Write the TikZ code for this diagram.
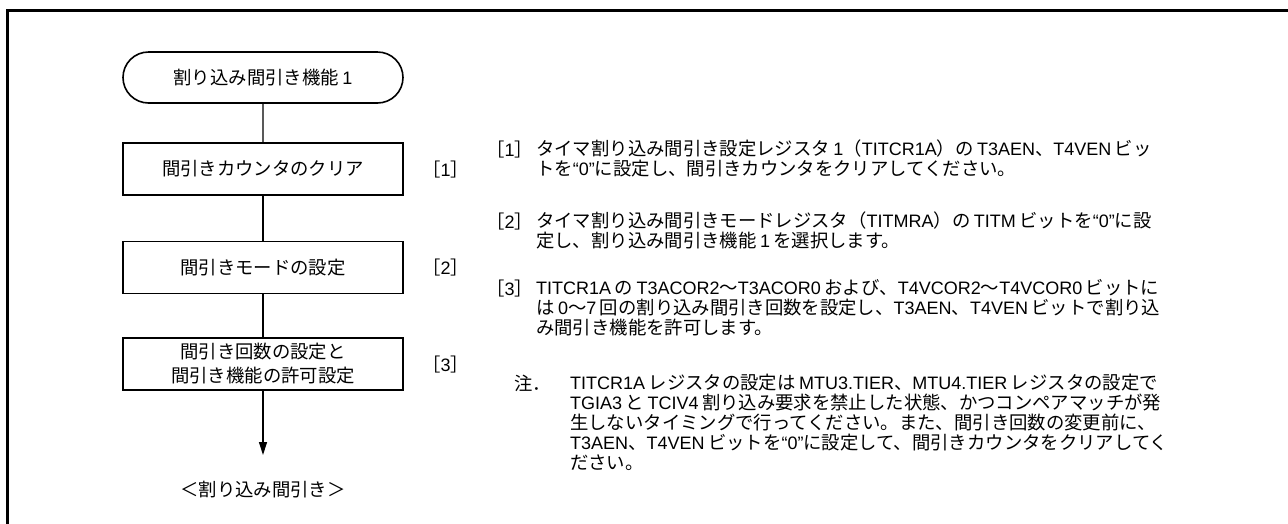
\documentclass[tikz,border=0pt]{standalone}
\usepackage{fontspec}
\setmainfont{Liberation Sans}
\newfontfamily\jpfont{Noto Sans CJK JP}[Scale=1.02]
\usetikzlibrary{arrows.meta,shapes.misc}

% switch to the Japanese font for kana, kanji and full-width forms
\XeTeXinterchartokenstate=1
\newXeTeXintercharclass\jpclass
\newXeTeXintercharclass\jppunct
\newXeTeXintercharclass\latpunct
\newcount\jpcnt
\def\setcharrange#1#2#3{\jpcnt=#1\relax
  \loop\XeTeXcharclass\jpcnt=#3\relax
  \ifnum\jpcnt<#2\advance\jpcnt by 1\repeat}
\setcharrange{"0021}{"007E}{0}
\setcharrange{"2010}{"2027}{\latpunct}
\setcharrange{"3000}{"30FF}{\jpclass}
\setcharrange{"3000}{"303F}{\jppunct}
\setcharrange{"4E00}{"9FFF}{\jpclass}
\setcharrange{"FF00}{"FFEF}{\jppunct}
\def\jlgap{\hskip3.5pt\relax}
\XeTeXinterchartoks 0 \jpclass = {\jlgap\jpfont}
\XeTeXinterchartoks \jpclass 0 = {\rmfamily\jlgap}
\XeTeXinterchartoks 0 \jppunct = {\jpfont}
\XeTeXinterchartoks \jppunct 0 = {\rmfamily}
\XeTeXinterchartoks \latpunct \jpclass = {\jpfont}
\XeTeXinterchartoks \latpunct \jppunct = {\jpfont}
\XeTeXinterchartoks \jpclass \latpunct = {\rmfamily}
\XeTeXinterchartoks \jppunct \latpunct = {\rmfamily}
\XeTeXinterchartoks 4095 \jpclass = {\jpfont}
\XeTeXinterchartoks 4095 \jppunct = {\jpfont}
\XeTeXinterchartoks 4095 0 = {\rmfamily}
\XeTeXinterchartoks 4095 \latpunct = {\rmfamily}

\begin{document}
\begin{tikzpicture}[x=1pt,y=-1pt,
    every node/.style={font=\fontsize{18}{20}\selectfont, inner sep=0pt},
    startbox/.style={draw, line width=1.6pt, rounded rectangle, minimum width=280pt, minimum height=51pt},
    procbox/.style={draw, line width=1.6pt, minimum width=280pt, minimum height=52pt, align=center},
    steplab/.style={anchor=base west},
    desc/.style={anchor=north west, align=left},
    link/.style={line width=1.2pt}
  ]
  \useasboundingbox (0,0) rectangle (1288,523);
  \draw[line width=3pt] (7.5,540) |- (1300,10.7);

  % flow chart
  \node[startbox] (start) at (263,77.5) {割り込み間引き機能1};
  \node[procbox] (clr) at (263,169) {間引きカウンタのクリア};
  \node[procbox] (mode) at (263,267.5) {間引きモードの設定};
  \node[procbox, font=\fontsize{18}{24}\selectfont] (perm) at (263,364) {間引き回数の設定と\\間引き機能の許可設定};
  \node (done) at (263,490) {＜割り込み間引き＞};
  \coordinate (tip) at (263,455);

  \draw[link] (start) -- (clr);
  \draw[link] (clr) -- (mode);
  \draw[link] (mode) -- (perm);
  \draw[link, -{Triangle[length=13pt,width=8pt]}] (perm) -- (tip);

  \foreach \n/\y in {1/176,2/274.5,3/371} {
    \node[steplab] (lab\n) at (422,\y) {［\n］};
  }

  % notes
  \node[steplab] (n1) at (486,156) {［1］};
  \node[desc] (d1) at (536,140) {タイマ割り込み間引き設定レジスタ1（TITCR1A）のT3AEN、T4VENビッ\\トを“0”に設定し、間引きカウンタをクリアしてください。};

  \node[steplab] (n2) at (486,228) {［2］};
  \node[desc] (d2) at (536,212) {タイマ割り込み間引きモードレジスタ（TITMRA）のTITMビットを“0”に設\\定し、割り込み間引き機能1を選択します。};

  \node[steplab] (n3) at (486,295) {［3］};
  \node[desc] (d3) at (536,279) {TITCR1AのT3ACOR2～T3ACOR0および、T4VCOR2～T4VCOR0ビットに\\は0～7回の割り込み間引き回数を設定し、T3AEN、T4VENビットで割り込\\み間引き機能を許可します。};

  \node[steplab] (nb) at (514,390) {注．};
  \node[desc] (db) at (570,374) {TITCR1Aレジスタの設定はMTU3.TIER、MTU4.TIERレジスタの設定で\\TGIA3とTCIV4割り込み要求を禁止した状態、かつコンペアマッチが発\\生しないタイミングで行ってください。また、間引き回数の変更前に、\\T3AEN、T4VENビットを“0”に設定して、間引きカウンタをクリアしてく\\ださい。};
\end{tikzpicture}
\end{document}
